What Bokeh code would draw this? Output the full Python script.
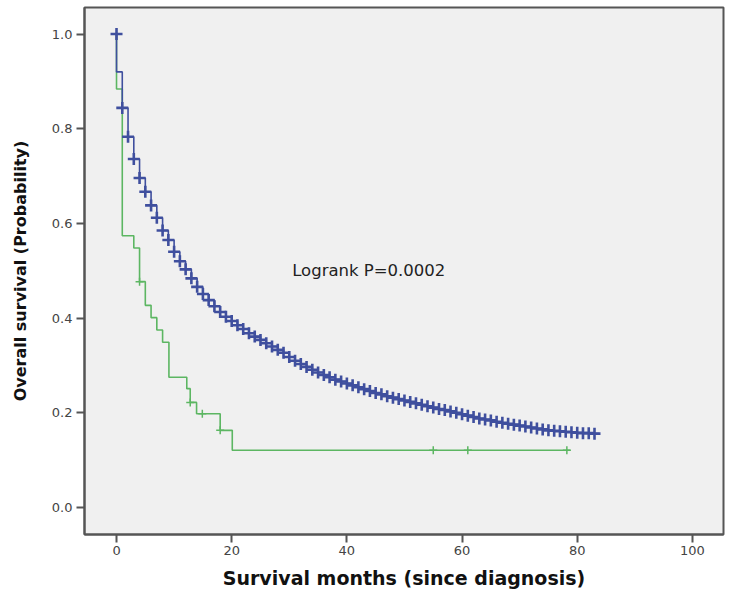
from bokeh.plotting import figure
from bokeh.models import Range1d, Label, FixedTicker
from bokeh.embed import file_html
from bokeh.resources import INLINE

# ---- data ----
blue_times = [0, 0, 1, 2, 3, 4, 5, 6, 7, 8, 9, 10, 11, 12, 13, 14, 15, 16, 17, 18, 19,
              20, 21, 22, 23, 24, 25, 26, 27, 28, 29, 30, 31, 32, 33, 34, 35, 36, 37, 38, 39,
              40, 41, 42, 43, 44, 45, 46, 47, 48, 49, 50, 51, 52, 53, 54, 55, 56, 57, 58, 59,
              60, 61, 62, 63, 64, 65, 66, 67, 68, 69, 70, 71, 72, 73, 74, 75, 76, 77, 78, 79,
              80, 81, 82, 83, 83.8]
blue_surv = [1.0, 0.92, 0.844, 0.783, 0.736, 0.696, 0.667, 0.638, 0.612, 0.585, 0.565, 0.540,
             0.520, 0.503, 0.484, 0.466, 0.451, 0.438, 0.425, 0.413, 0.403,
             0.394, 0.385, 0.377, 0.368, 0.361, 0.354, 0.347, 0.340, 0.333, 0.327,
             0.318, 0.310, 0.303, 0.297, 0.291, 0.285, 0.280, 0.275, 0.270, 0.266,
             0.262, 0.258, 0.254, 0.250, 0.246, 0.242, 0.239, 0.235, 0.232, 0.229,
             0.226, 0.223, 0.220, 0.217, 0.214, 0.211, 0.208, 0.206, 0.203, 0.200,
             0.197, 0.194, 0.191, 0.188, 0.186, 0.184, 0.181, 0.179, 0.177, 0.175,
             0.173, 0.171, 0.169, 0.167, 0.165, 0.163, 0.162, 0.161, 0.160, 0.159,
             0.158, 0.157, 0.157, 0.156, 0.156]
blue_cens_t = [0] + blue_times[2:-1]
blue_cens_s = [1.0] + blue_surv[2:-1]

green_times = [0, 0, 1, 3, 4, 5, 6, 7, 8, 9.1, 12.2, 12.8, 13.9, 18.0, 20.1, 78.8]
green_surv = [1.0, 0.884, 0.574, 0.548, 0.477, 0.427, 0.401, 0.375, 0.349, 0.275,
              0.251, 0.222, 0.198, 0.163, 0.121, 0.121]
green_cens_t = [4.0, 12.8, 14.9, 18.0, 55, 61, 78.2]
green_cens_s = [0.477, 0.222, 0.198, 0.163, 0.121, 0.121, 0.121]

x_ticks = [0, 20, 40, 60, 80, 100]
y_ticks = [0.0, 0.2, 0.4, 0.6, 0.8, 1.0]

BLUE = "#3f4f9e"
GREEN = "#5cb662"
FONT = "DejaVu Sans"

p = figure(width=730, height=592, output_backend="svg", toolbar_location=None,
           x_range=Range1d(-5.56, 105.4), y_range=Range1d(-0.057, 1.056),
           min_border_left=84, min_border_right=7, min_border_top=7, min_border_bottom=58)

p.background_fill_color = "#f0f0f0"
p.border_fill_color = "white"
p.outline_line_color = "#555555"
p.outline_line_width = 2
p.grid.visible = False

p.step(green_times, green_surv, mode="after", line_color=GREEN, line_width=1.6)
p.scatter(green_cens_t, green_cens_s, marker="cross", size=8, line_color=GREEN, line_width=1.5)

p.step(blue_times, blue_surv, mode="after", line_color=BLUE, line_width=1.6)
p.scatter(blue_cens_t, blue_cens_s, marker="cross", size=12, line_color=BLUE, line_width=2.6)

p.add_layout(Label(x=30.5, y=0.5, text="Logrank P=0.0002", text_font=FONT,
                   text_font_size="16.5px", text_color="#222222", text_baseline="alphabetic"))

for ax in (p.xaxis[0], p.yaxis[0]):
    ax.axis_line_color = "#555555"
    ax.axis_line_width = 2
    ax.major_tick_line_color = "#555555"
    ax.major_tick_line_width = 2
    ax.major_tick_out = 8
    ax.major_tick_in = 0
    ax.minor_tick_line_color = None
    ax.major_label_text_font = FONT
    ax.major_label_text_font_size = "13px"
    ax.major_label_text_color = "#444444"
    ax.axis_label_text_font = FONT
    ax.axis_label_text_font_style = "bold"
    ax.axis_label_text_color = "#111111"

p.xaxis.ticker = FixedTicker(ticks=x_ticks)
p.yaxis.ticker = FixedTicker(ticks=y_ticks)
p.yaxis.major_label_overrides = {v: f"{v:.1f}" for v in y_ticks}
p.xaxis.major_label_standoff = 3
p.yaxis.major_label_standoff = 4
p.xaxis.axis_label = "Survival months (since diagnosis)"
p.yaxis.axis_label = "Overall survival (Probability)"
p.xaxis.axis_label_text_font_size = "19px"
p.yaxis.axis_label_text_font_size = "16px"
p.xaxis.axis_label_standoff = 9
p.yaxis.axis_label_standoff = 19

open("out.html", "w").write(file_html(p, INLINE))
